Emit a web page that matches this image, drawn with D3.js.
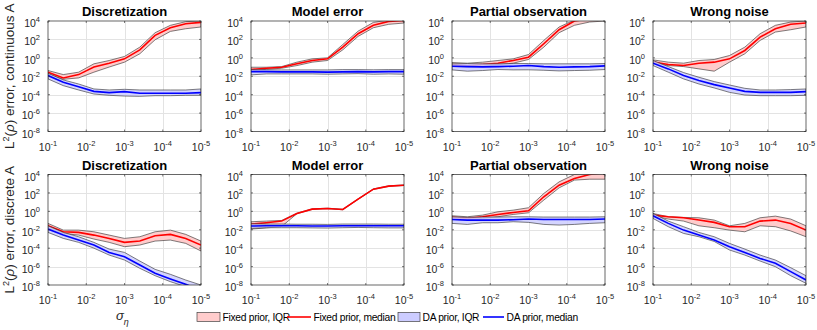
<!DOCTYPE html>
<html>
<head>
<meta charset="utf-8">
<script src="https://cdn.jsdelivr.net/npm/d3@7"></script>
<style>
  body { margin: 0; background: #fff; }
  svg { display: block; font-family: "Liberation Sans", Arial, Helvetica, sans-serif; }
  .grid line { stroke: #e3e3e3; stroke-width: 1; shape-rendering: crispEdges; }
  .frame { fill: none; stroke: #262626; stroke-width: 0.7; }
  .tick-mark { stroke: #262626; stroke-width: 0.6; }
  .tlab { font-size: 10.5px; fill: #262626; }
  .title { font-size: 13px; font-weight: bold; fill: #000; }
</style>
</head>
<body>
<div id="chart"></div>
<script>
/* data: log10 of L2 error, 11 noise levels, one list per panel */
var sigmaExp = [-1, -1.4, -1.8, -2.2, -2.6, -3, -3.4, -3.8, -4.2, -4.6, -5],
    titles = ["Discretization", "Model error", "Partial observation", "Wrong noise"],
    rowLabels = ["continuous A", "discrete A"],
    xTicks = [-1, -2, -3, -4, -5],
    yTicks = [4, 2, 0, -2, -4, -6, -8];

// continuous A
var fixedMedCont = [
    [-1.56, -2.18, -1.82, -1.0, -0.58, -0.11, 0.87, 2.44, 3.27, 3.7, 3.85],
    [-1.27, -1.13, -1.02, -0.65, -0.29, -0.11, 1.16, 2.62, 3.53, 3.96, 4.05],
    [-0.76, -0.87, -0.73, -0.58, -0.29, 0.07, 1.53, 3.05, 4.0, 4.25, 4.4],
    [-0.47, -0.73, -0.84, -0.58, -0.47, -0.11, 0.8, 2.25, 3.16, 3.64, 3.78]
],
    fixedQ3Cont = [
    [-1.38, -1.82, -1.56, -0.65, -0.29, 0.15, 1.16, 2.73, 3.53, 3.93, 4.0],
    [-1.02, -1.02, -0.95, -0.47, -0.11, 0.0, 1.45, 2.9, 3.85, 4.1, 4.1],
    [-0.51, -0.58, -0.47, -0.29, -0.11, 0.36, 1.89, 3.35, 4.1, 4.5, 4.6],
    [-0.22, -0.47, -0.58, -0.29, -0.18, 0.25, 1.16, 2.62, 3.53, 3.89, 4.0]
],
    fixedQ1Cont = [
    [-1.75, -2.33, -2.18, -1.56, -1.0, -0.47, 0.44, 1.96, 2.87, 3.16, 3.35],
    [-1.45, -1.24, -1.13, -0.84, -0.47, -0.29, 0.87, 2.33, 3.27, 3.64, 3.78],
    [-0.95, -1.02, -0.91, -0.76, -0.58, -0.18, 1.16, 2.73, 3.53, 3.89, 4.0],
    [-0.58, -0.84, -0.95, -1.2, -1.45, -0.47, 0.44, 1.89, 2.8, 3.05, 3.35]
],
    daMedCont = [
    [-1.93, -2.65, -3.13, -3.64, -3.78, -3.67, -3.85, -3.85, -3.85, -3.85, -3.78],
    [-1.5, -1.5, -1.53, -1.53, -1.53, -1.55, -1.53, -1.5, -1.53, -1.5, -1.5],
    [-0.91, -0.95, -0.98, -0.95, -0.91, -0.84, -0.95, -1.02, -0.98, -0.95, -0.87],
    [-0.58, -1.2, -1.93, -2.47, -2.91, -3.27, -3.64, -3.75, -3.75, -3.75, -3.67]
],
    daQ3Cont = [
    [-1.67, -2.4, -2.84, -3.38, -3.49, -3.42, -3.49, -3.49, -3.49, -3.49, -3.38],
    [-1.27, -1.3, -1.31, -1.31, -1.31, -1.31, -1.28, -1.28, -1.3, -1.28, -1.28],
    [-0.65, -0.62, -0.65, -0.65, -0.62, -0.62, -0.65, -0.65, -0.65, -0.65, -0.62],
    [-0.29, -0.95, -1.6, -2.11, -2.58, -2.95, -3.31, -3.49, -3.49, -3.45, -3.38]
],
    daQ1Cont = [
    [-2.29, -3.02, -3.49, -3.93, -4.07, -4.15, -4.18, -4.11, -4.11, -4.07, -4.07],
    [-1.85, -1.75, -1.75, -1.75, -1.75, -1.78, -1.75, -1.72, -1.78, -1.75, -1.78],
    [-1.31, -1.45, -1.38, -1.27, -1.31, -1.3, -1.35, -1.42, -1.38, -1.35, -1.27],
    [-0.84, -1.56, -2.29, -2.84, -3.27, -3.75, -4.04, -4.11, -4.11, -4.11, -4.07]
];

// discrete A
var fixedMedDisc = [
    [-1.57, -2.22, -2.29, -2.58, -2.94, -3.37, -3.23, -2.65, -2.5, -2.94, -3.66],
    [-1.39, -1.24, -1.06, -0.23, 0.24, 0.31, 0.2, 1.33, 2.41, 2.74, 2.84],
    [-0.66, -0.77, -0.59, -0.34, -0.12, 0.06, 1.58, 2.84, 3.57, 4.0, 4.2],
    [-0.41, -0.59, -0.7, -0.95, -1.2, -1.67, -1.67, -1.06, -0.95, -1.31, -2.04]
],
    fixedQ3Disc = [
    [-1.31, -2.04, -2.04, -2.22, -2.58, -2.94, -2.76, -2.22, -2.04, -2.5, -3.23],
    [-1.13, -1.06, -0.99, -0.2, 0.27, 0.34, 0.23, 1.36, 2.44, 2.77, 2.87],
    [-0.48, -0.59, -0.41, -0.05, 0.13, 0.39, 1.94, 3.2, 4.0, 4.2, 4.3],
    [-0.23, -0.59, -0.66, -0.7, -0.95, -1.57, -1.31, -0.7, -0.52, -0.84, -1.57]
],
    fixedQ1Disc = [
    [-1.78, -2.4, -2.58, -3.01, -3.37, -3.84, -3.66, -3.23, -3.12, -3.48, -4.31],
    [-1.93, -1.8, -1.65, -0.26, 0.21, 0.28, 0.17, 1.3, 2.38, 2.71, 2.81],
    [-0.88, -0.95, -0.77, -0.59, -0.34, -0.16, 1.22, 2.55, 3.39, 3.49, 3.49],
    [-0.48, -0.84, -1.06, -1.57, -1.78, -2.04, -2.22, -1.57, -1.67, -2.13, -2.76]
],
    daMedDisc = [
    [-1.93, -2.58, -3.12, -3.66, -4.46, -4.93, -5.83, -6.73, -7.35, -7.93, -8.54],
    [-1.6, -1.57, -1.57, -1.57, -1.6, -1.6, -1.57, -1.57, -1.57, -1.57, -1.57],
    [-0.88, -0.95, -0.95, -0.95, -0.91, -0.84, -0.88, -0.88, -0.88, -0.88, -0.84],
    [-0.48, -1.31, -2.04, -2.58, -3.12, -3.84, -4.46, -5.11, -5.65, -6.55, -7.46]
],
    daQ3Disc = [
    [-1.57, -2.29, -2.76, -3.37, -4.1, -4.46, -5.4, -6.3, -6.84, -7.46, -8.0],
    [-1.35, -1.38, -1.38, -1.4, -1.4, -1.42, -1.38, -1.38, -1.38, -1.4, -1.4],
    [-0.59, -0.66, -0.62, -0.62, -0.59, -0.59, -0.62, -0.62, -0.62, -0.62, -0.59],
    [-0.23, -1.06, -1.67, -2.29, -2.76, -3.48, -4.1, -4.75, -5.29, -6.12, -6.99]
],
    daQ1Disc = [
    [-2.29, -2.94, -3.37, -4.0, -4.75, -5.29, -6.19, -6.99, -7.64, -8.18, -8.72],
    [-1.85, -1.78, -1.78, -1.78, -1.8, -1.82, -1.78, -1.75, -1.78, -1.8, -1.8],
    [-1.31, -1.42, -1.24, -1.24, -1.13, -1.2, -1.42, -1.49, -1.42, -1.31, -1.24],
    [-0.77, -1.67, -2.4, -2.76, -3.27, -4.2, -4.75, -5.4, -6.01, -6.99, -7.82]
];

var legendLabels = ["Fixed prior, IQR", "Fixed prior, median", "DA prior, IQR", "DA prior, median"];

/* layout */
var width = 817,
    height = 330,
    colLeft = [48, 251, 452, 653],
    plotW = 153,
    rowTop = [21, 174.5],
    plotH = 110.5,
    colFixed = "#ff0000",
    colDA = "#0000ff",
    fillFixed = "#ffcccc",
    fillDA = "#ccccff";

var rows = [
    { fixedMed: fixedMedCont, fixedQ1: fixedQ1Cont, fixedQ3: fixedQ3Cont, daMed: daMedCont, daQ1: daQ1Cont, daQ3: daQ3Cont },
    { fixedMed: fixedMedDisc, fixedQ1: fixedQ1Disc, fixedQ3: fixedQ3Disc, daMed: daMedDisc, daQ1: daQ1Disc, daQ3: daQ3Disc }
];

var svg = d3.select("#chart")
    .append("svg")
    .attr("width", width)
    .attr("height", height);

var defs = svg.append("defs");

// superscript "10^e" label
function powLabel(sel, e) {
    sel.append("tspan").text("10");
    sel.append("tspan")
        .attr("dy", -5)
        .style("font-size", "7.5px")
        .text(e);
}

rows.forEach(function (row, r) {
    var top = rowTop[r],
        bottom = top + plotH;

    // y label
    var yl = svg.append("text")
        .attr("transform", "translate(14," + (top + plotH / 2) + ") rotate(-90)")
        .attr("text-anchor", "middle")
        .style("font-size", "13.5px")
        .attr("fill", "#262626");
    yl.append("tspan").text("L");
    yl.append("tspan").attr("dy", -5).style("font-size", "9px").text("2");
    yl.append("tspan").attr("dy", 5).text("(");
    yl.append("tspan").style("font-style", "italic").text("ρ");
    yl.append("tspan").text(") error, " + rowLabels[r]);

    titles.forEach(function (title, c) {
        var left = colLeft[c],
            right = left + plotW;

        var x = d3.scaleLog()
            .domain([1e-1, 1e-5])
            .range([left, right]),
            y = d3.scaleLog()
            .domain([1e-8, 1e4])
            .range([bottom, top]);

        var id = "clip" + r + c;
        defs.append("clipPath")
            .attr("id", id)
            .append("rect")
            .attr("x", left)
            .attr("y", top)
            .attr("width", plotW)
            .attr("height", plotH);

        var g = svg.append("g").attr("class", "panel");

        // grids
        var grid = g.append("g").attr("class", "grid");
        grid.selectAll(".gx")
            .data(xTicks.slice(1, -1))
            .join("line")
            .attr("x1", d => Math.round(x(Math.pow(10, d))) + 0.5)
            .attr("x2", d => Math.round(x(Math.pow(10, d))) + 0.5)
            .attr("y1", top)
            .attr("y2", bottom);
        grid.selectAll(".gy")
            .data(yTicks.slice(1, -1))
            .join("line")
            .attr("y1", d => Math.round(y(Math.pow(10, d))) + 0.5)
            .attr("y2", d => Math.round(y(Math.pow(10, d))) + 0.5)
            .attr("x1", left)
            .attr("x2", right);

        var pts = sigmaExp.map(function (s, i) {
            return {
                s: Math.pow(10, s),
                fm: Math.pow(10, row.fixedMed[c][i]),
                f1: Math.pow(10, row.fixedQ1[c][i]),
                f3: Math.pow(10, row.fixedQ3[c][i]),
                dm: Math.pow(10, row.daMed[c][i]),
                d1: Math.pow(10, row.daQ1[c][i]),
                d3: Math.pow(10, row.daQ3[c][i])
            };
        });

        var plot = g.append("g").attr("clip-path", "url(#" + id + ")");

        plot.append("path")
            .datum(pts)
            .attr("fill", fillFixed)
            .attr("stroke", "#2a2a2a")
            .attr("stroke-width", 0.6)
            .attr("d", d3.area().x(d => x(d.s)).y0(d => y(d.f1)).y1(d => y(d.f3)));
        plot.append("path")
            .datum(pts)
            .attr("fill", "none")
            .attr("stroke", colFixed)
            .attr("stroke-width", 1.6)
            .attr("d", d3.line().x(d => x(d.s)).y(d => y(d.fm)));
        plot.append("path")
            .datum(pts)
            .attr("fill", fillDA)
            .attr("fill-opacity", 0.85)
            .attr("stroke", "#2a2a2a")
            .attr("stroke-width", 0.6)
            .attr("d", d3.area().x(d => x(d.s)).y0(d => y(d.d1)).y1(d => y(d.d3)));
        plot.append("path")
            .datum(pts)
            .attr("fill", "none")
            .attr("stroke", colDA)
            .attr("stroke-width", 1.6)
            .attr("d", d3.line().x(d => x(d.s)).y(d => y(d.dm)));

        // frame and ticks
        g.append("rect")
            .attr("class", "frame")
            .attr("x", left)
            .attr("y", top)
            .attr("width", plotW)
            .attr("height", plotH);

        xTicks.forEach(function (t) {
            var px = x(Math.pow(10, t));
            g.append("line").attr("class", "tick-mark")
                .attr("x1", px).attr("x2", px).attr("y1", bottom).attr("y2", bottom - 2);
            g.append("line").attr("class", "tick-mark")
                .attr("x1", px).attr("x2", px).attr("y1", top).attr("y2", top + 2);
            g.append("text")
                .attr("class", "tlab")
                .attr("x", px)
                .attr("y", bottom + 19)
                .attr("text-anchor", "middle")
                .call(powLabel, t);
        });
        yTicks.forEach(function (t) {
            var py = y(Math.pow(10, t));
            g.append("line").attr("class", "tick-mark")
                .attr("x1", left).attr("x2", left + 2).attr("y1", py).attr("y2", py);
            g.append("line").attr("class", "tick-mark")
                .attr("x1", right).attr("x2", right - 2).attr("y1", py).attr("y2", py);
            g.append("text")
                .attr("class", "tlab")
                .attr("x", left - 8)
                .attr("y", py + 6)
                .attr("text-anchor", "end")
                .call(powLabel, t);
        });

        g.append("text")
            .attr("class", "title")
            .attr("x", left + plotW / 2)
            .attr("y", top - 5)
            .attr("text-anchor", "middle")
            .text(title);
    });
});

// x label
var xl = svg.append("text")
    .attr("x", 116)
    .attr("y", 320)
    .attr("fill", "#262626");
xl.append("tspan").style("font-style", "italic").style("font-size", "13px").text("σ");
xl.append("tspan").attr("dy", 5).style("font-style", "italic").style("font-size", "9px").text("η");

/* legend */
var lgd = svg.append("g").attr("class", "legend"),
    lgdY = 317,
    lgdItems = [
        { type: "patch", x: 197, w: 23, fill: fillFixed },
        { type: "line", x: 287, w: 24, stroke: colFixed },
        { type: "patch", x: 398, w: 22, fill: fillDA },
        { type: "line", x: 483, w: 21, stroke: colDA }
    ];

lgdItems.forEach(function (it, i) {
    if (it.type === "patch") {
        lgd.append("rect")
            .attr("x", it.x)
            .attr("y", lgdY - 4.5)
            .attr("width", it.w)
            .attr("height", 9)
            .attr("fill", it.fill)
            .attr("stroke", "#444")
            .attr("stroke-width", 0.7);
    } else {
        lgd.append("line")
            .attr("x1", it.x)
            .attr("x2", it.x + it.w)
            .attr("y1", lgdY)
            .attr("y2", lgdY)
            .attr("stroke", it.stroke)
            .attr("stroke-width", 1.6);
    }
    lgd.append("text")
        .attr("x", it.x + it.w + 2.5)
        .attr("y", lgdY + 4)
        .style("font-size", "10.3px")
        .style("letter-spacing", "-0.3px")
        .attr("fill", "#000")
        .text(legendLabels[i]);
});
</script>
</body>
</html>
